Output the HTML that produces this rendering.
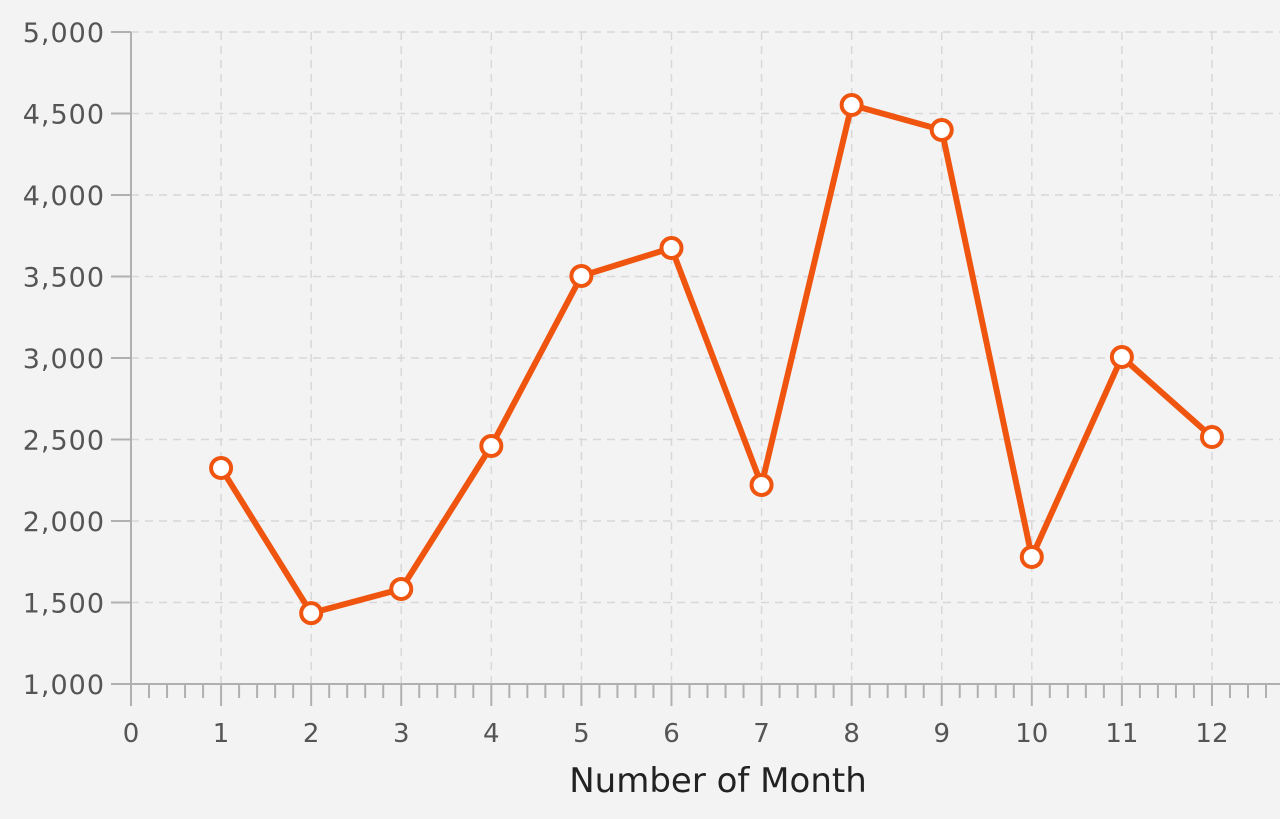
<!DOCTYPE html>
<html><head><meta charset="utf-8"><style>
body{margin:0;background:#f2f2f2;}
svg{display:block;font-family:"DejaVu Sans","Liberation Sans",sans-serif;}
</style></head><body>
<svg id="chart" width="1280" height="819">
<rect width="1280" height="819" fill="#f3f3f3"/>
<g id="grid"></g><g id="axes"></g><g id="series"></g>
<text x="718" y="792" text-anchor="middle" font-size="34" fill="#222">Number of Month</text>
</svg>
<script>
const months=[1,2,3,4,5,6,7,8,9,10,11,12];
const values=[2325,1435,1583,2460,3503,3675,2221,4552,4399,1779,3006,2515];
const yTicks=[1000,1500,2000,2500,3000,3500,4000,4500,5000];
const xTicks=[0,1,2,3,4,5,6,7,8,9,10,11,12];
const NS="http://www.w3.org/2000/svg";
const X=v=>131+v*90.08;
const Y=v=>684-(v-1000)*652/4000;
function mk(p,t,a){const e=document.createElementNS(NS,t);for(const k in a)e.setAttribute(k,a[k]);p.appendChild(e);return e;}
const grid=document.getElementById('grid'),axes=document.getElementById('axes'),ser=document.getElementById('series');
yTicks.forEach(t=>{
 if(t>1000){const l=mk(grid,'line',{x1:131,x2:1280,y1:Y(t),y2:Y(t),stroke:'#d8d8d8','stroke-width':1.5,'stroke-dasharray':'8,6'});
 }
 mk(axes,'line',{x1:111,x2:131,y1:Y(t),y2:Y(t),stroke:'#b0b0b0','stroke-width':2});
 const tx=mk(axes,'text',{x:105,y:Y(t)+10,'text-anchor':'end','font-size':27,fill:'#555','letter-spacing':1});tx.textContent=t.toLocaleString('en-US');
 
});
xTicks.forEach(t=>{
 if(t>0){const l=mk(grid,'line',{x1:X(t),x2:X(t),y1:32,y2:684,stroke:'#d8d8d8','stroke-width':1.5,'stroke-dasharray':'8,6'});
 }
 mk(axes,'line',{x1:X(t),x2:X(t),y1:684,y2:706,stroke:'#b0b0b0','stroke-width':2});
 const tx=mk(axes,'text',{x:X(t),y:742,'text-anchor':'middle','font-size':26,fill:'#555'});tx.textContent=t;
 
});
for(let m=0;m<12.8;m+=0.2){if(Math.abs(m-Math.round(m))<0.01)continue;
 mk(axes,'line',{x1:X(m),x2:X(m),y1:684,y2:698,stroke:'#b0b0b0','stroke-width':2});}
mk(axes,'line',{x1:111,x2:1280,y1:684,y2:684,stroke:'#b0b0b0','stroke-width':2});
mk(axes,'line',{x1:131,x2:131,y1:32,y2:706,stroke:'#b0b0b0','stroke-width':2});
const pl=mk(ser,'polyline',{points:months.map((m,i)=>X(m)+','+Y(values[i])).join(' '),fill:'none',stroke:'#f0550f','stroke-width':6,'stroke-linejoin':'round'});

months.forEach((m,i)=>{const c=mk(ser,'circle',{cx:X(m),cy:Y(values[i]),r:10,fill:'#fff',stroke:'#f0550f','stroke-width':4});
 });
</script>
</body></html>
